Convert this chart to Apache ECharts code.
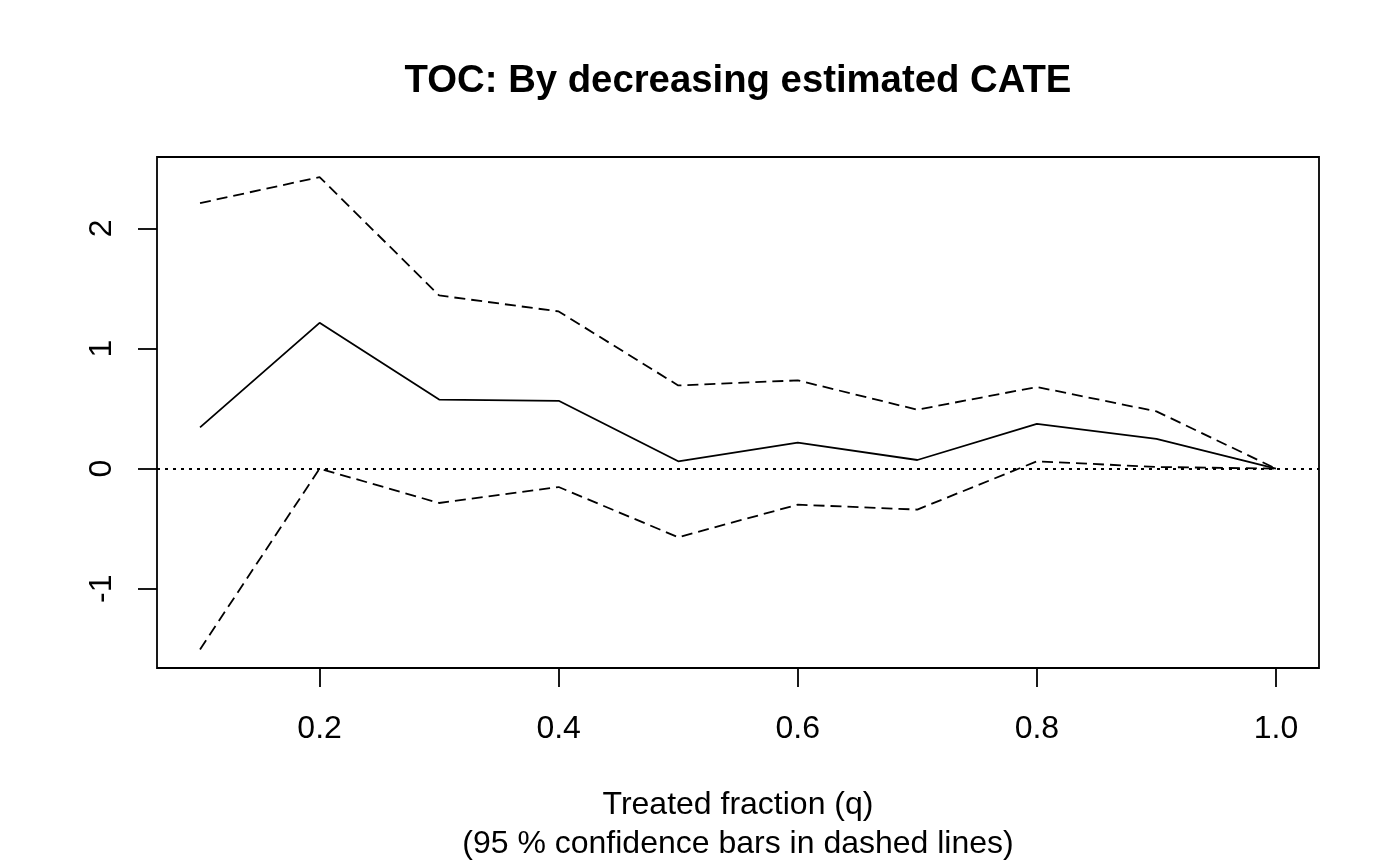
<!DOCTYPE html>
<html>
<head>
<meta charset="utf-8">
<script src="https://cdn.jsdelivr.net/npm/echarts@6/dist/echarts.min.js"></script>
<style>
html,body{margin:0;padding:0;background:#fff;}
#chart{width:1400px;height:865px;}
</style>
</head>
<body>
<div id="chart"></div>
<script>
// Treated fraction (q)
const q = [0.1, 0.2, 0.3, 0.4, 0.5, 0.6, 0.7, 0.8, 0.9, 1.0];
// TOC estimate
const estimate = [0.344, 1.214, 0.575, 0.565, 0.061, 0.216, 0.072, 0.372, 0.247, 0.0];
// Upper 95% bound
const upper = [2.211, 2.428, 1.442, 1.309, 0.693, 0.735, 0.491, 0.680, 0.477, 0.0];
// Lower 95% bound
const lower = [-1.505, 0.0, -0.286, -0.153, -0.571, -0.300, -0.341, 0.061, 0.014, 0.0];
// Tick labels
const xTicks = [0.2, 0.4, 0.6, 0.8, 1.0];
const yTicks = [-1, 0, 1, 2];

const titleText = 'TOC: By decreasing estimated CATE';
const xLabel1 = 'Treated fraction (q)';
const xLabel2 = '(95 % confidence bars in dashed lines)';

const pairs = arr => q.map((x, i) => [x, arr[i]]);
const FONT = '"Liberation Sans", Arial, Helvetica, sans-serif';

const chart = echarts.init(document.getElementById('chart'), null, {renderer: 'canvas'});
chart.setOption({
  animation: false,
  backgroundColor: '#ffffff',
  textStyle: {fontFamily: FONT},
  grid: {
    left: 157, right: 81, top: 157, bottom: 197,
    show: true, borderColor: '#000', borderWidth: 1.8, backgroundColor: 'transparent'
  },
  graphic: [
    {type: 'text', x: 738, y: 81, style: {text: titleText, fontFamily: FONT, fontSize: 38.3, fontWeight: 'bold', fill: '#000', align: 'center', verticalAlign: 'middle'}},
    {type: 'text', x: 738, y: 805, style: {text: xLabel1, fontFamily: FONT, fontSize: 32, fill: '#000', align: 'center', verticalAlign: 'middle'}},
    {type: 'text', x: 738, y: 844, style: {text: xLabel2, fontFamily: FONT, fontSize: 32, fill: '#000', align: 'center', verticalAlign: 'middle'}}
  ],
  xAxis: {
    type: 'value', min: 0.064, max: 1.036,
    splitLine: {show: false},
    axisLine: {show: false, onZero: false},
    axisTick: {show: true, length: 19, customValues: xTicks, lineStyle: {color: '#000', width: 1.8}},
    axisLabel: {show: true, customValues: xTicks, margin: 45, fontSize: 32, color: '#000', fontFamily: FONT,
      formatter: v => v.toFixed(1)}
  },
  yAxis: {
    type: 'value', min: -1.66, max: 2.595,
    splitLine: {show: false},
    axisLine: {show: false, onZero: false},
    axisTick: {show: true, length: 19, customValues: yTicks, lineStyle: {color: '#000', width: 1.8}},
    axisLabel: {show: true, customValues: yTicks, rotate: 90, margin: 39, fontSize: 32, color: '#000', fontFamily: FONT,
      formatter: v => String(v)}
  },
  series: [
    {
      type: 'line', data: pairs(estimate), symbol: 'none',
      lineStyle: {color: '#000', width: 1.8, type: 'solid'},
      markLine: {
        silent: true, symbol: ['none', 'none'], label: {show: false},
        lineStyle: {color: '#000', width: 1.8, type: [3, 5]},
        data: [{yAxis: 0}]
      }
    },
    {
      type: 'line', data: pairs(upper), symbol: 'none',
      lineStyle: {color: '#000', width: 1.8, type: [11, 6]}
    },
    {
      type: 'line', data: pairs(lower), symbol: 'none',
      lineStyle: {color: '#000', width: 1.8, type: [11, 6]}
    }
  ]
});
</script>
</body>
</html>
